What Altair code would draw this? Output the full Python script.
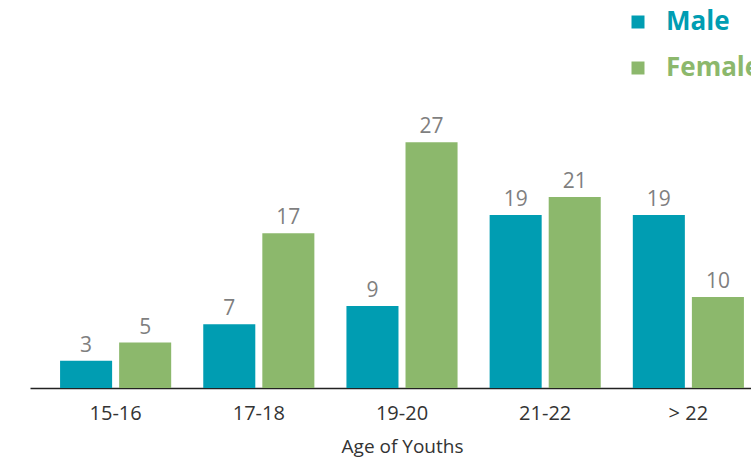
import altair as alt
import pandas as pd

# Counts of youths by age group and gender
age_groups = ["15-16", "17-18", "19-20", "21-22", "> 22"]
male = [3, 7, 9, 19, 19]
female = [5, 17, 27, 21, 10]

genders = ["Male", "Female"]
colors = ["#009db2", "#8cb86c"]

rows = []
for i, age in enumerate(age_groups):
    rows.append({"age": age, "gender": "Male", "count": male[i]})
    rows.append({"age": age, "gender": "Female", "count": female[i]})
df = pd.DataFrame(rows)

FONT = "Open Sans"

x_enc = alt.X(
    "age:N",
    sort=age_groups,
    title="Age of Youths",
    scale=alt.Scale(range=[0, 744], paddingInner=0.224, paddingOuter=0.21),
    axis=alt.Axis(
        labelAngle=0,
        labelFontSize=20,
        labelColor="#333333",
        labelFont=FONT,
        labelPadding=15,
        ticks=False,
        domainColor="#222222",
        domainWidth=1.5,
        titleFontSize=19,
        titleFont=FONT,
        titleFontWeight="normal",
        titleColor="#333333",
        titlePadding=14,
    ),
)
xoff_enc = alt.XOffset("gender:N", sort=genders, scale=alt.Scale(paddingInner=0.119))
y_enc = alt.Y("count:Q", scale=alt.Scale(domain=[0, 30]), axis=None)

bars = alt.Chart(df).mark_bar().encode(
    x=x_enc,
    xOffset=xoff_enc,
    y=y_enc,
    color=alt.Color(
        "gender:N",
        sort=genders,
        scale=alt.Scale(domain=genders, range=colors),
        legend=alt.Legend(
            title=None,
            orient="none",
            legendX=595,
            legendY=-106,
            symbolType="square",
            symbolSize=169,
            symbolStrokeWidth=0,
            labelFontSize=26,
            labelFont=FONT,
            labelFontWeight="bold",
            labelOffset=15,
            rowPadding=20,
            labelColor=alt.ExprRef("datum.label == 'Male' ? '#009db2' : '#8cb86c'"),
        ),
    ),
)

labels = alt.Chart(df).mark_text(
    baseline="bottom", dy=-5, fontSize=21, font=FONT, color="#7f7f7f"
).encode(
    x=x_enc,
    xOffset=xoff_enc,
    y=y_enc,
    text=alt.Text("count:Q"),
)

chart = (
    alt.layer(bars, labels)
    .properties(
        width=721,
        height=273,
        autosize=alt.AutoSizeParams(type="none"),
        padding={"left": 30, "top": 115, "right": 0, "bottom": 71},
        background="white",
    )
    .configure_view(stroke=None)
)

chart.save("out.html", embed_options={"renderer": "svg", "actions": False})
